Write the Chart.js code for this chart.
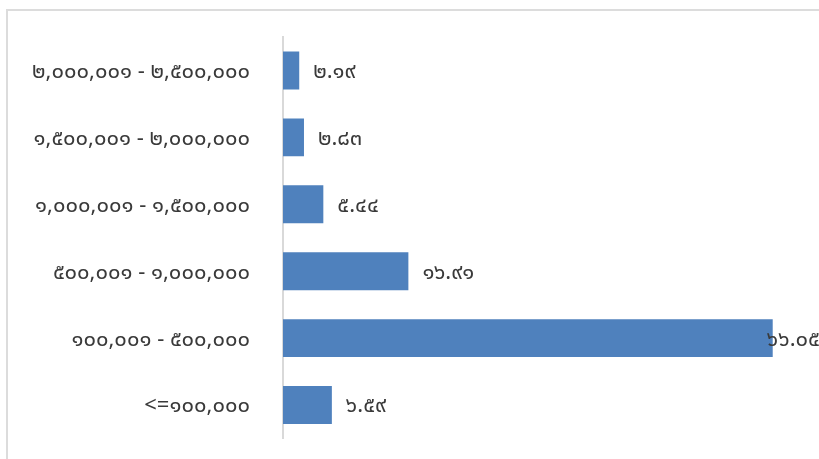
<!DOCTYPE html>
<html>
<head>
<meta charset="utf-8">
<script src="https://cdn.jsdelivr.net/npm/chart.js@4"></script>
<style>
  html, body { margin: 0; padding: 0; background: #fff; overflow: hidden; }
  #frame { position: absolute; left: 6px; top: 9px; width: 1000px; height: 1000px;
           border-left: 2px solid #dcdcdc; border-top: 2px solid #dcdcdc; }
  #wrap { position: absolute; left: 0; top: 0; width: 822px; height: 459px; }
</style>
</head>
<body>
<div id="frame"></div>
<div id="wrap"><canvas id="c" width="822" height="459"></canvas></div>
<script>
const categories = [
  '๒,๐๐๐,๐๐๑ - ๒,๕๐๐,๐๐๐',
  '๑,๕๐๐,๐๐๑ - ๒,๐๐๐,๐๐๐',
  '๑,๐๐๐,๐๐๑ - ๑,๕๐๐,๐๐๐',
  '๕๐๐,๐๐๑ - ๑,๐๐๐,๐๐๐',
  '๑๐๐,๐๐๑ - ๕๐๐,๐๐๐',
  '<=๑๐๐,๐๐๐'
];
const values = [2.19, 2.83, 5.44, 16.91, 66.05, 6.59];
const xMin = 0;
const xMax = 70;

const FONT = "Tahoma, 'Noto Sans Thai', 'Leelawadee UI', Loma, Garuda, 'DejaVu Sans', sans-serif";
const FONT_SIZE = 22;
const thaiDigits = ['๐','๑','๒','๓','๔','๕','๖','๗','๘','๙'];
function toThai(s) { return String(s).replace(/[0-9]/g, d => thaiDigits[+d]); }

const labelPlugin = {
  id: 'barLabels',
  afterDatasetsDraw(chart) {
    const ctx = chart.ctx;
    const meta = chart.getDatasetMeta(0);
    ctx.save();
    ctx.font = FONT_SIZE + 'px ' + FONT;
    ctx.fillStyle = '#3a3a3a';
    ctx.textBaseline = 'middle';
    ctx.textAlign = 'left';
    meta.data.forEach((bar, i) => {
      const txt = toThai(values[i].toFixed(2));
      const tw = ctx.measureText(txt).width;
      let x = bar.x + 14;
      if (x + tw > chart.width - 2) x = chart.width - 2 - tw;
      ctx.fillText(txt, x, bar.y + 3);
    });
    ctx.restore();
  }
};

new Chart(document.getElementById('c'), {
  type: 'bar',
  data: {
    labels: categories,
    datasets: [{
      data: values,
      backgroundColor: '#4f81bd',
      borderWidth: 0,
      barPercentage: 0.567,
      categoryPercentage: 1.0
    }]
  },
  options: {
    indexAxis: 'y',
    responsive: false,
    animation: false,
    events: [],
    layout: { padding: { top: 37, bottom: 20.5, left: 0, right: 20 } },
    plugins: { legend: { display: false }, tooltip: { enabled: false }, title: { display: false } },
    scales: {
      x: { display: false, min: xMin, max: xMax, grid: { display: false } },
      y: {
        grid: { display: false, drawTicks: true, tickLength: 33 },
        border: { display: true, color: '#d9d9d9', width: 2 },
        ticks: { color: '#3a3a3a', padding: 0, labelOffset: 3, font: { size: FONT_SIZE, family: FONT } },
        afterFit(scale) { scale.width = 283; }
      }
    }
  },
  plugins: [labelPlugin]
});
</script>
</body>
</html>
